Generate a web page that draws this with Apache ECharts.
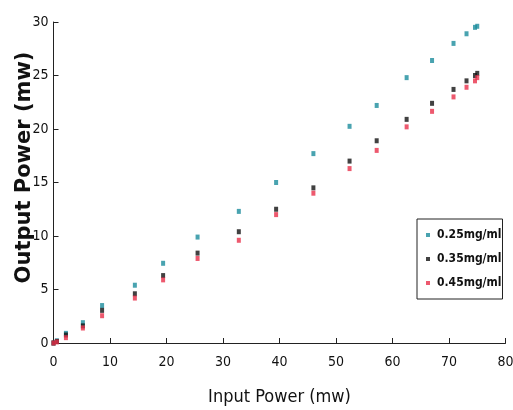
<!DOCTYPE html>
<html>
<head>
<meta charset="utf-8">
<script src="https://cdn.jsdelivr.net/npm/echarts@6/dist/echarts.min.js"></script>
<style>
html, body { margin: 0; padding: 0; background: #fff; }
#chart { width: 513px; height: 410px; }
</style>
</head>
<body>
<div id="chart"></div>
<script>
// input power (mw) shared by all three concentrations
var inputPower = [0, 0.6, 2.2, 5.2, 8.6, 14.4, 19.4, 25.5, 32.8, 39.4, 46.0, 52.4, 57.2, 62.5, 67.0, 70.8, 73.1, 74.6, 75.0];
var out025 = [0, 0.2, 0.9, 1.9, 3.5, 5.4, 7.45, 9.9, 12.3, 15.0, 17.7, 20.25, 22.2, 24.8, 26.4, 28.0, 28.9, 29.5, 29.6];
var out035 = [0, 0.15, 0.75, 1.6, 3.05, 4.6, 6.3, 8.4, 10.4, 12.5, 14.5, 17.0, 18.9, 20.9, 22.4, 23.7, 24.5, 25.0, 25.2];
var out045 = [0, 0.1, 0.5, 1.4, 2.55, 4.2, 5.9, 7.9, 9.6, 12.0, 14.0, 16.3, 18.0, 20.2, 21.65, 23.0, 23.9, 24.5, 24.8];
var seriesNames = ['0.25mg/ml', '0.35mg/ml', '0.45mg/ml'];
var seriesColors = ['#1b8c9c', '#111111', '#e8304a'];

var chart = echarts.init(document.getElementById('chart'));
var narrow = '"DejaVu Sans Condensed", "Liberation Sans Narrow", Arial, sans-serif';

function pairs(ys) {
    return inputPower.map(function (x, i) { return [x, ys[i]]; });
}

var allData = [out025, out035, out045];
var series = allData.map(function (d, i) {
    return {
        name: seriesNames[i],
        type: 'scatter',
        symbol: 'rect',
        symbolSize: [4, 5],
        itemStyle: { color: seriesColors[i] },
        data: pairs(d)
    };
});

chart.setOption({
    animation: false,
    backgroundColor: '#fff',
    grid: { left: 53.5, right: 7.5, top: 22, bottom: 67, outerBoundsMode: 'none' },
    legend: {
        orient: 'vertical',
        left: 417,
        top: 219,
        padding: [10, 1, 10, 9],
        itemGap: 12,
        itemWidth: 4,
        itemHeight: 4,
        borderColor: '#222',
        borderWidth: 1,
        icon: 'rect',
        textStyle: { fontFamily: narrow, fontWeight: 'bold', fontSize: 12, color: '#111', padding: [0, 0, 0, 2] },
        data: seriesNames
    },
    xAxis: {
        type: 'value',
        min: 0, max: 80, interval: 10,
        name: 'Input Power (mw)',
        nameLocation: 'middle',
        nameGap: 45,
        nameMoveOverlap: false,
        nameTextStyle: { fontFamily: narrow, fontSize: 18, color: '#111' },
        axisLine: { lineStyle: { color: '#222', width: 1 } },
        axisTick: { inside: true, length: 5, lineStyle: { color: '#222' } },
        axisLabel: { fontFamily: narrow, fontSize: 14, color: '#111', margin: 12 },
        splitLine: { show: false }
    },
    yAxis: {
        type: 'value',
        min: 0, max: 30, interval: 5,
        name: 'Output Power (mw)',
        nameLocation: 'middle',
        nameGap: 18,
        nameMoveOverlap: false,
        nameTextStyle: { fontFamily: 'DejaVu Sans, sans-serif', fontWeight: 'bold', fontSize: 21, color: '#111', padding: [0, 0, 0, 30] },
        axisLine: { show: true, lineStyle: { color: '#222', width: 1 } },
        axisTick: { show: true, inside: true, length: 5, lineStyle: { color: '#222' } },
        axisLabel: { fontFamily: narrow, fontSize: 14, color: '#111', margin: 5 },
        splitLine: { show: false }
    },
    series: series
});
</script>
</body>
</html>
